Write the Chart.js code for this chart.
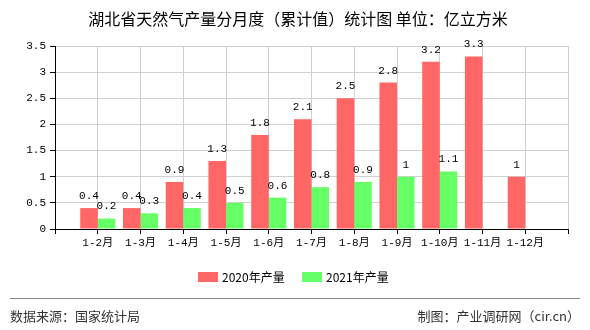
<!DOCTYPE html>
<html>
<head>
<meta charset="utf-8">
<script src="https://cdn.jsdelivr.net/npm/chart.js@4/dist/chart.umd.min.js"></script>
<style>
  html, body { margin: 0; padding: 0; background: #fff; }
  #wrap { position: relative; width: 590px; height: 330px; }
  canvas { display: block; }
</style>
</head>
<body>
<div id="wrap"><canvas id="c" width="590" height="330"></canvas></div>
<script>
// Cumulative monthly natural gas output, Hubei (100 million m³)
const months = ['1-2月', '1-3月', '1-4月', '1-5月', '1-6月', '1-7月', '1-8月', '1-9月', '1-10月', '1-11月', '1-12月'];
const output2020 = [0.4, 0.4, 0.9, 1.3, 1.8, 2.1, 2.5, 2.8, 3.2, 3.3, 1];
const output2021 = [0.2, 0.3, 0.4, 0.5, 0.6, 0.8, 0.9, 1, 1.1, null, null];
const yTicks = [0, 0.5, 1, 1.5, 2, 2.5, 3, 3.5];

const titleText = '湖北省天然气产量分月度（累计值）统计图 单位：亿立方米';
const sourceText = '数据来源：国家统计局';
const creditText = '制图：产业调研网（cir.cn）';

// blank slots at both ends keep the months off the axis edges
const labels = [''].concat(months, ['']);
const pad = arr => [null].concat(arr, [null]);

const MONO = '"Liberation Mono", "DejaVu Sans Mono", "Noto Sans CJK SC", monospace';
const CJK = '"Noto Sans CJK SC", "DejaVu Sans", sans-serif';

const valueLabels = {
  id: 'valueLabels',
  afterDatasetsDraw(chart) {
    const ctx = chart.ctx;
    ctx.save();
    ctx.font = '11px ' + MONO;
    ctx.fillStyle = '#000';
    ctx.textAlign = 'center';
    ctx.textBaseline = 'middle';
    chart.data.datasets.forEach((ds, i) => {
      const meta = chart.getDatasetMeta(i);
      meta.data.forEach((bar, j) => {
        const v = ds.data[j];
        if (v === null || v === undefined) return;
        ctx.fillText(String(v), bar.x, bar.y - 12);
      });
    });
    ctx.restore();
  }
};

const decorations = {
  id: 'decorations',
  afterDraw(chart) {
    const ctx = chart.ctx;
    ctx.save();
    // title
    ctx.fillStyle = '#000';
    ctx.font = '16px ' + CJK;
    ctx.textAlign = 'center';
    ctx.textBaseline = 'middle';
    ctx.fillText(titleText, 298, 19);

    // legend
    ctx.font = '12px ' + CJK;
    ctx.textAlign = 'left';
    const items = chart.data.datasets;
    let x = 198;
    items.forEach((ds, i) => {
      ctx.fillStyle = ds.backgroundColor;
      ctx.fillRect(x, 272, 20, 10);
      ctx.fillStyle = '#000';
      ctx.fillText(ds.label, x + 24, 277);
      x = 302;
    });

    // footer rule and credits
    ctx.strokeStyle = '#888';
    ctx.lineWidth = 1;
    ctx.beginPath();
    ctx.moveTo(10, 298.5);
    ctx.lineTo(580, 298.5);
    ctx.stroke();
    ctx.fillStyle = '#333';
    ctx.font = '13px ' + CJK;
    ctx.textAlign = 'left';
    ctx.fillText(sourceText, 10, 316);
    ctx.textAlign = 'right';
    ctx.fillText(creditText, 580, 316);
    ctx.restore();
  }
};

new Chart(document.getElementById('c'), {
  type: 'bar',
  data: {
    labels: labels,
    datasets: [
      { label: '2020年产量', data: pad(output2020), backgroundColor: '#FF6666', borderWidth: 0 },
      { label: '2021年产量', data: pad(output2021), backgroundColor: '#66FF66', borderWidth: 0 }
    ]
  },
  options: {
    responsive: false,
    animation: false,
    devicePixelRatio: 1,
    layout: { padding: { left: 0, top: 46, right: 22, bottom: 71 } },
    plugins: {
      legend: { display: false },
      title: { display: false },
      tooltip: { enabled: false }
    },
    datasets: { bar: { categoryPercentage: 0.82, barPercentage: 1 } },
    scales: {
      x: {
        offset: false,
        grid: { offset: false, color: '#d0d0d0', tickColor: '#000', tickLength: 5, drawOnChartArea: true },
        border: { color: '#000', width: 1 },
        ticks: { color: '#000', font: { size: 11, family: MONO }, maxRotation: 0, autoSkip: false, padding: 2 },
        afterFit(scale) { scale.height = 30; }
      },
      y: {
        min: 0,
        max: 3.5,
        afterBuildTicks(scale) { scale.ticks = yTicks.map(v => ({ value: v })); },
        grid: { color: '#d0d0d0', tickColor: '#000', tickLength: 5 },
        border: { color: '#000', width: 1 },
        ticks: { color: '#000', font: { size: 11, family: MONO }, padding: 4, callback: v => String(v) },
        afterFit(scale) { scale.width = 55; }
      }
    }
  },
  plugins: [valueLabels, decorations]
});
</script>
</body>
</html>
